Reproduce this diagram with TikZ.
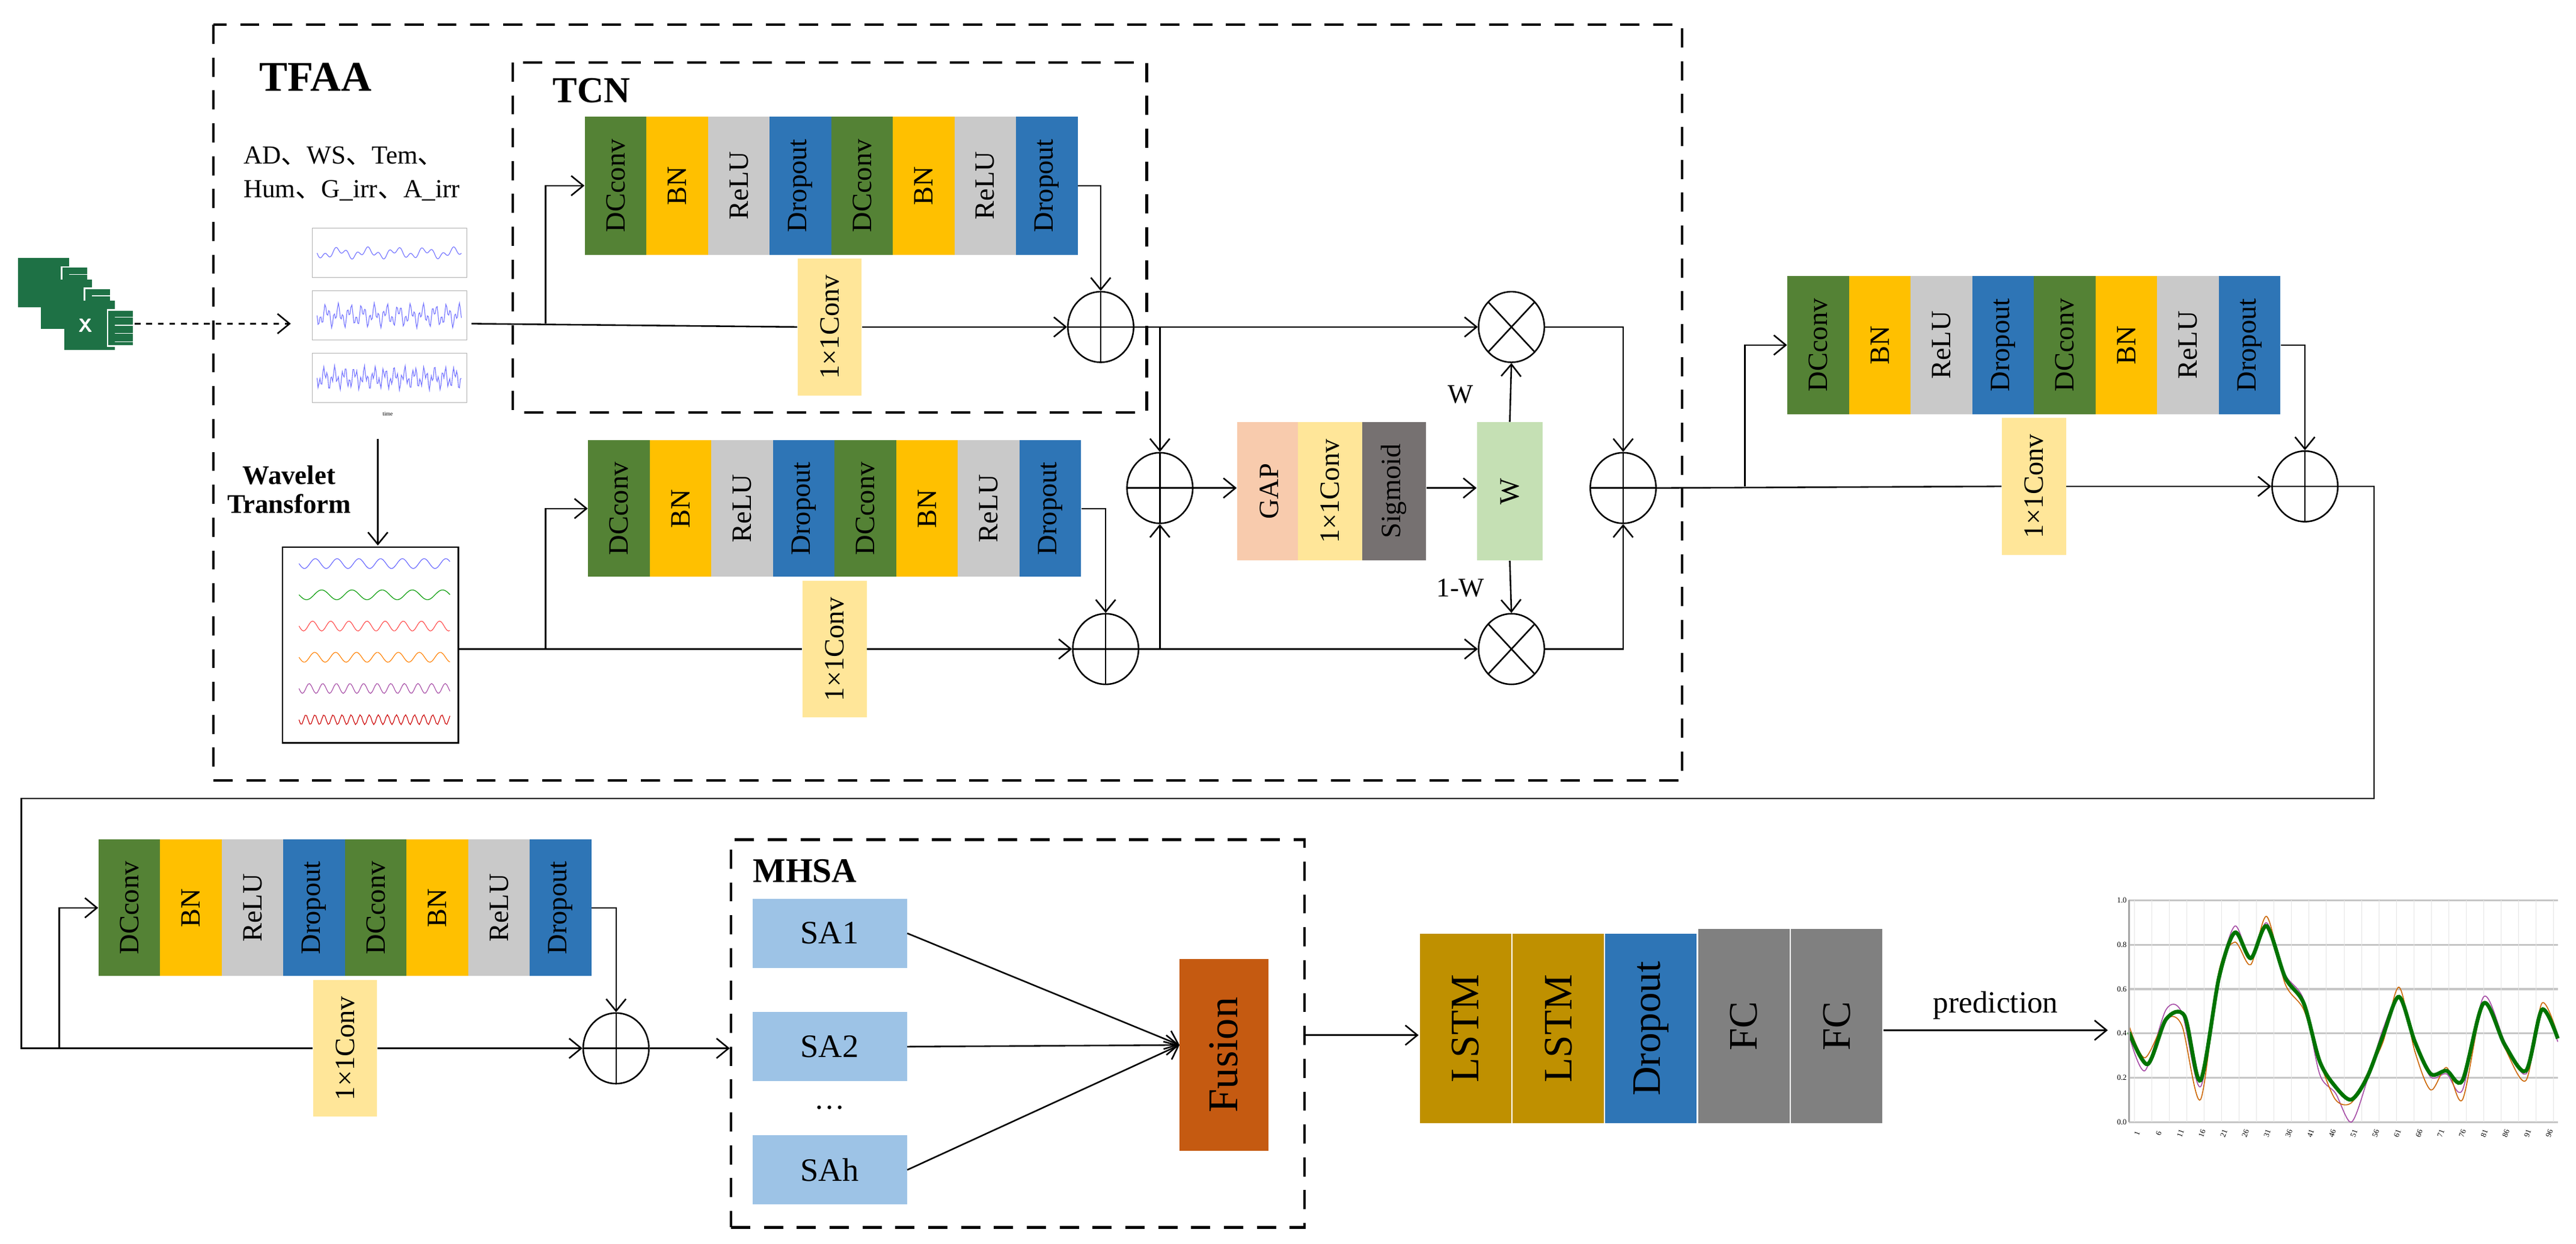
\documentclass[tikz,border=0pt]{standalone}
\usepackage{fontspec}
\setmainfont{Liberation Serif}
\newfontfamily\cjk{Noto Sans CJK SC}
\usetikzlibrary{arrows.meta,calc,shapes.geometric}
\definecolor{cg}{HTML}{548235}
\definecolor{cy}{HTML}{FFC000}
\definecolor{cgr}{HTML}{C9C9C9}
\definecolor{cb}{HTML}{2E75B6}
\definecolor{cly}{HTML}{FFE699}
\definecolor{cgap}{HTML}{F8CBAD}
\definecolor{csig}{HTML}{767171}
\definecolor{cw}{HTML}{C5E0B4}
\definecolor{csa}{HTML}{9DC3E6}
\definecolor{cfu}{HTML}{C55A11}
\definecolor{cls}{HTML}{BF9000}
\definecolor{cfc}{HTML}{808080}
\definecolor{xl}{HTML}{1E7145}
\newcommand\tcnrow[4]{%
 \foreach \i/\c/\t in {1/cg/DCconv,2/cy/BN,3/cgr/ReLU,4/cb/Dropout,5/cg/DCconv,6/cy/BN,7/cgr/ReLU,8/cb/Dropout}
 {\node[blk,fill=\c,minimum height=#4*0.03cm] (#1\i) at ({#2+(\i-0.5)*37.5},{#3+#4/2}) {\rotatebox{90}{\t}};}}
\newcommand\dn{{\cjk 、}}
\begin{document}
\begin{tikzpicture}[x=0.03cm,y=-0.03cm,
 blk/.style={minimum width=1.125cm,inner sep=0pt,font=\fontsize{14.5}{16}\selectfont},
 conv/.style={fill=cly,minimum width=1.17cm,minimum height=2.5cm,inner sep=0pt,font=\fontsize{14.5}{16}\selectfont},
 ln/.style={line width=0.8pt},
 ar/.style={line width=0.8pt,-{Straight Barb[length=2.2mm,width=3.6mm]}},
 dbox/.style={draw,line width=1.3pt,dash pattern=on 3.5mm off 2.5mm},
 op/.style={ellipse,draw,line width=0.8pt,minimum width=1.2cm,minimum height=1.29cm,inner sep=0pt},
 plus/.style={op,path picture={\draw[line width=0.8pt] (path picture bounding box.north)--(path picture bounding box.south) (path picture bounding box.west)--(path picture bounding box.east);}},
 otim/.style={op,path picture={\draw[line width=0.8pt] (path picture bounding box.north west)--(path picture bounding box.south east) (path picture bounding box.south west)--(path picture bounding box.north east);}},
 lb/.style={minimum width=1.69cm,minimum height=3.48cm,inner sep=0pt,draw=white,line width=0.6pt,font=\fontsize{21}{23}\selectfont}]
\useasboundingbox[fill=white] (0,0) rectangle (1568,757);

% dashed boxes
\draw[dbox] (130,15) rectangle (1024,475);
\draw[dbox] (312,38) rectangle (698,251);
\node[font=\bfseries\fontsize{22}{24}\selectfont] (tfaa) at (192,47) {TFAA};
\node[font=\bfseries\fontsize{19}{21}\selectfont] (tcn) at (360,55) {TCN};

% excel icon
\foreach \dx/\dy in {0/0,14/13,28/26}{
 \fill[xl] (11+\dx,157+\dy) rectangle (42+\dx,187+\dy);
 \fill[white] (37+\dx,162+\dy) rectangle (54+\dx,185+\dy);
 \fill[xl] (38+\dx,163+\dy) rectangle (53+\dx,184+\dy);
 \foreach \k in {0,1,2,3} \draw[white,line width=0.4pt] (42+\dx,167+\dy+5*\k) -- (53+\dx,167+\dy+5*\k);}
\node[white,font=\bfseries\sffamily\fontsize{10}{10}\selectfont] (xicon) at (52,198) {X};

% input text
\node[font=\fontsize{13.5}{15}\selectfont,anchor=west,inner sep=0] (intxt1) at (148,95) {AD\dn WS\dn Tem\dn};
\node[font=\fontsize{13.5}{15}\selectfont,anchor=west,inner sep=0] (intxt2) at (148,116) {Hum\dn G\_irr\dn A\_irr};

% input plots
\foreach \y/\a/\f in {139/4/1800,177/8/4300,215/8/5200}{
 \draw[gray!60,line width=0.3pt] (190,\y) rectangle (284,\y+30);
 \draw[blue!55,line width=0.35pt] plot[domain=0:1,samples=150] ({193+\x*88},{\y+15+\a*0.5*sin(\f*\x)+\a*0.45*sin(2.7*\f*\x)});}
\node[font=\fontsize{3}{3}\selectfont] (xlab) at (236,252) {time};
\draw[ln,dashed,-{Straight Barb[length=2.2mm,width=3.6mm]}] (82,197) -- (177,197);

% wavelet
\draw[ar] (230,267) -- (230,332);
\node[font=\bfseries\fontsize{14}{16}\selectfont,align=center] (wt) at (176,298) {Wavelet\\[-1pt]Transform};
\node[draw,line width=0.8pt,minimum width=3.21cm,minimum height=3.57cm,inner sep=0] (wav) at (225.5,392.5) {};
\foreach \y/\c/\f in {343/blue!60/2500,362/green!60!black/1800,381/red!70/3000,400/orange/2600,419/violet!70/4000,438/red!80!black/6000}
 \draw[\c,line width=0.35pt] plot[domain=0:1,samples=100] ({182+\x*92},{\y+3*sin(\f*\x)});

% TCN rows
\tcnrow{a}{356}{71}{84}
\node[conv] (ca) at (505,199) {\rotatebox{90}{1×1Conv}};
\tcnrow{b}{358}{268}{83}
\node[conv] (cbb) at (508,395) {\rotatebox{90}{1×1Conv}};

% ops
\node[plus] (p1) at (670,199) {};
\node[otim] (x1) at (920,199) {};
\node[plus] (p2) at (706,297) {};
\node[plus] (p3) at (673,395) {};
\node[otim] (x2) at (920,395) {};
\node[plus] (p4) at (988,297) {};

% row 1 connectors
\draw[ln] (287,197) -- (ca.west);
\draw[ar] (ca.east) -- (p1.west);
\draw[ar] (332,197) |- (a1.west);
\draw[ar] (a8.east) -| (p1.north);
\draw[ar] (p1.east) -- (x1.west);
\draw[ar] (706,199) -- (p2.north);
% row 2 connectors
\draw[ln] (wav.east|-0,395) -- (cbb.west);
\draw[ar] (cbb.east) -- (p3.west);
\draw[ar] (332,395) |- (b1.west);
\draw[ar] (b8.east) -| (p3.north);
\draw[ar] (p3.east) -- (x2.west);
\draw[ar] (706,395) -- (p2.south);

% attention
\tikzset{att/.style={minimum width=1.17cm,minimum height=2.52cm,inner sep=0,font=\fontsize{14.5}{16}\selectfont}}
\node[att,fill=cgap] (gap) at (772.5,299) {\rotatebox{90}{GAP}};
\node[att,fill=cly] (g1c) at (809.5,299) {\rotatebox{90}{1×1Conv}};
\node[att,fill=csig] (sig) at (848.5,299) {\rotatebox{90}{Sigmoid}};
\node[att,fill=cw,minimum width=1.2cm] (w) at (919,299) {\rotatebox{90}{W}};
\draw[ar] (p2.east) -- (gap.west|-p2);
\draw[ar] (sig.east|-p2) -- (w.west|-p2);
\draw[ar] (w.north) -- (x1.south);
\draw[ar] (w.south) -- (x2.north);
\node[font=\fontsize{14}{16}\selectfont] (wl) at (889,240) {W};
\node[font=\fontsize{14}{16}\selectfont] (wl2) at (889,358) {1-W};
\draw[ar] (x1.east) -| (p4.north);
\draw[ar] (x2.east) -| (p4.south);

% third row
\tcnrow{c}{1088}{168}{84}
\node[conv] (cc) at (1238,296) {\rotatebox{90}{1×1Conv}};
\node[plus] (p5) at (1403,296) {};
\draw[ln] (p4.east) -- (cc.west);
\draw[ar] (cc.east) -- (p5.west);
\draw[ar] (1062,296) |- (c1.west);
\draw[ar] (c8.east) -| (p5.north);

% fourth row
\tcnrow{d}{60}{511}{83}
\node[conv] (cd) at (210,638) {\rotatebox{90}{1×1Conv}};
\node[plus] (p6) at (375,638) {};
\draw[ln] (p5.east) -- (1445,296) -- (1445,486) -- (13,486) -- (13,638) -- (cd.west);
\draw[ar] (cd.east) -- (p6.west);
\draw[ar] (36,638) |- (d1.west);
\draw[ar] (d8.east) -| (p6.north);

% MHSA
\node[dbox,minimum width=10.47cm,minimum height=7.08cm,inner sep=0] (mh) at (619.5,629) {};
\node[font=\bfseries\fontsize{18}{20}\selectfont] (mhl) at (490,530) {MHSA};
\draw[ar] (p6.east) -- (mh.west|-p6);
\tikzset{sa/.style={fill=csa,minimum width=2.82cm,minimum height=1.26cm,inner sep=0,font=\fontsize{17}{19}\selectfont}}
\node[sa] (sa1) at (505,568) {SA1};
\node[sa] (sa2) at (505,637) {SA2};
\node[font=\fontsize{16}{18}\selectfont] (dots) at (505,674) {…};
\node[sa] (sah) at (505,712) {SAh};
\node[fill=cfu,minimum width=1.62cm,minimum height=3.51cm,inner sep=0,font=\fontsize{22}{24}\selectfont] (fu) at (745,642) {\rotatebox{90}{Fusion}};
\coordinate (fin) at (718,636);
\draw[ar] (sa1.east) -- (fin);
\draw[ar] (sa2.east) -- (fin);
\draw[ar] (sah.east) -- (fin);

% LSTM head
\node[lb,fill=cls] (l1) at (892,626) {\rotatebox{90}{LSTM}};
\node[lb,fill=cls] (l2) at (948.5,626) {\rotatebox{90}{LSTM}};
\node[lb,fill=cb] (dr) at (1005,626) {\rotatebox{90}{Dropout}};
\node[lb,fill=cfc,minimum height=3.57cm] (f1) at (1061.5,624.5) {\rotatebox{90}{FC}};
\node[lb,fill=cfc,minimum height=3.57cm] (f2) at (1118,624.5) {\rotatebox{90}{FC}};
\draw[ar] (mh.east|-0,630) -- (l1.west|-0,630);
\coordinate (chin) at (1283,627);
\draw[ar] (f2.east|-chin) -- node[above,font=\fontsize{16}{18}\selectfont,yshift=2pt] {prediction} (chin);

% chart
\begin{scope}[shift={(-772.6,8.1)},xscale=1.611,yscale=0.978]
\foreach \v in {0.0,0.2,0.4,0.6,0.8,1.0}{
 \draw[gray!45,line width=1pt] (1284,690-\v*138) -- (1446,690-\v*138);
 \node[font=\fontsize{4}{5}\selectfont,anchor=east,inner sep=1pt] at (1284,690-\v*138) {\v};}
\foreach \k in {0,...,24} \draw[gray!20,line width=0.3pt] (1286+\k*6.6,552) -- (1286+\k*6.6,690);
\foreach \k [evaluate=\k as \lab using int(1+5*\k)] in {0,...,19} \node[font=\fontsize{4}{5}\selectfont,rotate=70,inner sep=0pt] at (1287+\k*8.2,697) {\lab};
\draw[violet!70,line width=0.5pt] plot[smooth,tension=0.5] coordinates {(1284,636)(1290,658)(1298,620)(1304,622)(1311,668)(1318,600)(1324,568)(1330,588)(1336,566)(1343,598)(1350,614)(1356,660)(1362,672)(1368,690)(1374,664)(1380,632)(1386,612)(1392,640)(1398,662)(1404,660)(1410,670)(1418,612)(1426,640)(1434,660)(1440,620)(1446,640)};
\draw[orange!80!black,line width=0.5pt] plot[smooth,tension=0.5] coordinates {(1284,630)(1290,650)(1298,626)(1304,630)(1311,676)(1318,596)(1324,578)(1330,592)(1336,562)(1343,604)(1350,620)(1356,652)(1362,676)(1368,678)(1374,660)(1380,640)(1386,606)(1392,646)(1398,670)(1404,656)(1410,676)(1418,616)(1426,644)(1434,664)(1440,616)(1446,636)};
\draw[green!45!black,line width=2pt] plot[smooth,tension=0.5] coordinates {(1284,634)(1291,654)(1298,626)(1305,624)(1311,664)(1318,600)(1324,572)(1330,588)(1336,568)(1343,600)(1350,616)(1356,652)(1362,668)(1368,676)(1374,662)(1380,636)(1386,612)(1392,640)(1398,660)(1404,658)(1410,664)(1418,616)(1426,642)(1434,658)(1440,620)(1446,638)};
\draw[gray!70,line width=1pt] (1284,552) -- (1284,690);
\end{scope}
\end{tikzpicture}
\end{document}
